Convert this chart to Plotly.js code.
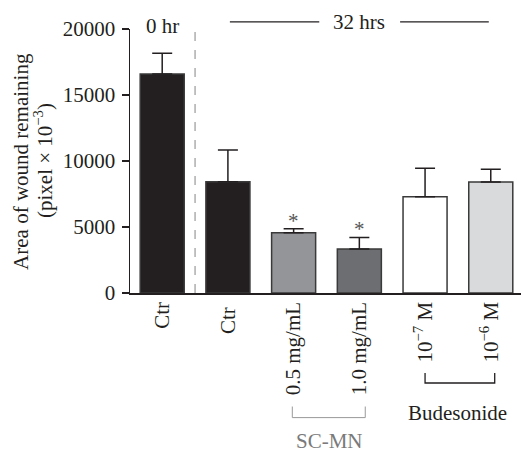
<!DOCTYPE html>
<html>
<head>
<meta charset="utf-8">
<script src="https://cdn.plot.ly/plotly-3.0.1.min.js"></script>
<style>html,body{margin:0;padding:0;background:#fff;}#chart{width:522px;height:453px;}</style>
</head>
<body>
<div id="chart"></div>
<script>
var categories = ['Ctr', 'Ctr ', '0.5 mg/mL', '1.0 mg/mL', '10<sup>−7</sup> M', '10<sup>−6</sup> M'];
var areaValues = [16600, 8430, 4570, 3330, 7300, 8410];
var areaErrors = [1560, 2400, 300, 880, 2150, 960];
var barColors = ['#231f20', '#231f20', '#939598', '#6d6e71', '#ffffff', '#d9dadb'];
var yTickValues = [0, 5000, 10000, 15000, 20000];
var yTickLabels = ['0', '5000', '10000', '15000', '20000'];
var significant = [false, false, true, true, false, false];

var FONT = 'Liberation Serif, Times New Roman, serif';
var TXT = '#231f20';

var trace = {
  type: 'bar',
  x: categories,
  y: areaValues,
  marker: {color: barColors, line: {color: '#3a3a3a', width: 1.5}},
  error_y: {type: 'data', symmetric: false, array: areaErrors,
            color: TXT, thickness: 1.5, width: 10},
  hoverinfo: 'none'
};

var annotations = [
  {xref: 'paper', yref: 'paper', x: -0.279, y: 0.5, xanchor: 'center', yanchor: 'middle',
   textangle: -90, showarrow: false,
   text: 'Area of wound remaining', font: {family: FONT, size: 21, color: TXT}},
  {xref: 'paper', yref: 'paper', x: -0.2225, y: 0.5, xanchor: 'center', yanchor: 'middle',
   textangle: -90, showarrow: false,
   text: '(pixel × 10<sup>−3</sup>)', font: {family: FONT, size: 21, color: TXT}},
  {xref: 'x', yref: 'paper', x: 0, y: 1.011, xanchor: 'center', yanchor: 'middle', showarrow: false,
   text: '0 hr', font: {family: FONT, size: 21, color: TXT}},
  {xref: 'x', yref: 'paper', x: 3.0, y: 1.027, xanchor: 'center', yanchor: 'middle', showarrow: false,
   text: '32 hrs', font: {family: FONT, size: 21, color: TXT}},
  {xref: 'x', yref: 'paper', x: 2.55, y: -0.612, xanchor: 'center', yanchor: 'bottom', showarrow: false,
   text: 'SC-MN', font: {family: FONT, size: 21, color: '#7a7a7a'}},
  {xref: 'x', yref: 'paper', x: 4.5, y: -0.453, xanchor: 'center', yanchor: 'middle', showarrow: false,
   text: 'Budesonide', font: {family: FONT, size: 21, color: TXT}}
];
significant.forEach(function(s, i){
  if (s) {
    annotations.push({xref: 'x', yref: 'y', x: i, y: areaValues[i] + areaErrors[i],
      xanchor: 'center', yanchor: 'bottom', yshift: -6, showarrow: false, text: '*',
      font: {family: FONT, size: 21, color: '#555'}});
  }
});

var shapes = [
  {type: 'line', xref: 'x', yref: 'paper', x0: 0.5, x1: 0.5, y0: 0, y1: 1,
   line: {color: '#999', width: 1.2, dash: 'dash'}},
  {type: 'line', xref: 'x', yref: 'paper', x0: 1.03, x1: 2.39, y0: 1.027, y1: 1.027,
   line: {color: TXT, width: 1.3}},
  {type: 'line', xref: 'x', yref: 'paper', x0: 3.62, x1: 4.97, y0: 1.027, y1: 1.027,
   line: {color: TXT, width: 1.3}},
  {type: 'path', xref: 'x', yref: 'paper',
   path: 'M 1.98,-0.43 L 1.98,-0.472 L 3.09,-0.472 L 3.09,-0.43',
   line: {color: '#999', width: 1}},
  {type: 'path', xref: 'x', yref: 'paper',
   path: 'M 4.0,-0.303 L 4.0,-0.341 L 5.06,-0.341 L 5.06,-0.303',
   line: {color: TXT, width: 1.3}}
];

var layout = {
  width: 522, height: 453,
  margin: {l: 130, r: 1, t: 29, b: 160},
  paper_bgcolor: '#fff', plot_bgcolor: '#fff',
  showlegend: false,
  bargap: 0.33,
  font: {family: FONT, size: 21, color: TXT},
  xaxis: {
    type: 'category', range: [-0.49, 5.46],
    tickangle: -90, ticks: '', showgrid: false, zeroline: false,
    showline: true, linecolor: TXT, linewidth: 1.5, ticklabelstandoff: -1,
    tickfont: {family: FONT, size: 21, color: TXT}
  },
  yaxis: {
    range: [0, 20000], tickmode: 'array', tickvals: yTickValues, ticktext: yTickLabels,
    ticks: 'outside', ticklen: 7, tickwidth: 1.3, tickcolor: TXT, ticklabelstandoff: 2,
    showgrid: false, zeroline: false, showline: true, linecolor: TXT, linewidth: 1.5,
    tickfont: {family: FONT, size: 21, color: TXT}
  },
  annotations: annotations,
  shapes: shapes
};

Plotly.newPlot('chart', [trace], layout, {staticPlot: true, displayModeBar: false});
</script>
</body>
</html>
